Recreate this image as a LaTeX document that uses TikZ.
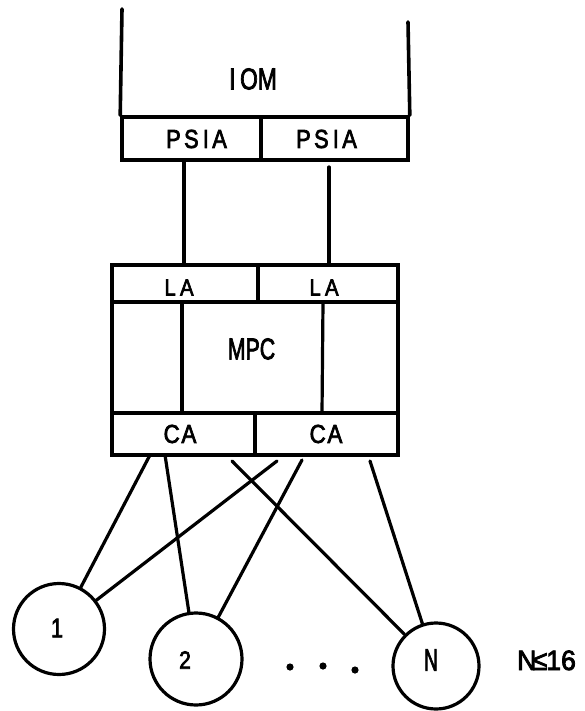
\documentclass[tikz,border=0pt]{standalone}
\usepackage{fontspec}
\setmainfont{Liberation Sans}
\newfontfamily\lblfont[FakeBold=3]{Liberation Sans}
\begin{document}
\begin{tikzpicture}[x=1pt,y=-1pt,
  wire/.style={line width=3.2pt,line cap=round,line join=round},
  frame/.style={line width=3.6pt,line cap=round,line join=round},
  cell/.style={draw,line width=3.6pt,rectangle,inner sep=0pt,anchor=center},
  unit/.style={draw,circle,line width=3.2pt,minimum size=91pt,inner sep=0pt},
  tag/.style={inner sep=0pt,anchor=center}]
\useasboundingbox (0,0) rectangle (585,711);
% #1 font size, #2 horizontal squeeze, #3 text
\newcommand{\lbl}[3]{\scalebox{#2}[1]{\lblfont\fontsize{#1}{#1}\selectfont #3}}

% IOM frame with its two PSIA cells
\node[cell,minimum width=139pt,minimum height=43pt] (psia1) at (191.5,138.5) {};
\node[cell,minimum width=147pt,minimum height=43pt] (psia2) at (334.5,138.5) {};
\node[tag] (t-psia1) at (196.5,139) {\lbl{26}{0.84}{P\hspace{4pt}S\hspace{5pt}I\hspace{4pt}A}};
\node[tag] (t-psia2) at (326.5,139) {\lbl{26}{0.84}{P\hspace{4pt}S\hspace{5pt}I\hspace{4pt}A}};
\coordinate (iomTL) at (122,9);
\coordinate (iomTR) at (408,22);
\draw[frame] (iomTL) -- (psia1.north west);
\draw[frame] (iomTR) -- (psia2.north east);
\node[tag] (iom) at (253,79) {\lbl{30}{0.76}{I\hspace{6pt}OM}};

% MPC frame
\node[cell,minimum width=286pt,minimum height=190pt] (mpc) at (255,360) {};
\node[cell,minimum width=146pt,minimum height=37pt] (la1) at (185,283.5) {};
\node[cell,minimum width=140pt,minimum height=37pt] (la2) at (328,283.5) {};
\node[cell,minimum width=143pt,minimum height=42pt] (ca1) at (183.5,434) {};
\node[cell,minimum width=143pt,minimum height=42pt] (ca2) at (326.5,434) {};
\node[tag] (t-la1) at (179,287.5) {\lbl{23}{0.88}{L\hspace{5pt}A}};
\node[tag] (t-la2) at (324,287.5) {\lbl{23}{0.88}{L\hspace{5pt}A}};
\node[tag] (t-mpc) at (251.5,349) {\lbl{30}{0.71}{MPC}};
\node[tag] (t-ca1) at (180,434) {\lbl{26}{0.86}{C\hspace{2pt}A}};
\node[tag] (t-ca2) at (326,434) {\lbl{26}{0.86}{C\hspace{2pt}A}};

% links between PSIA and LA, and through the MPC
\coordinate (p1) at (184,160);
\coordinate (p2) at (329,167);
\coordinate (l1) at (184,265);
\coordinate (l2) at (329,265);
\draw[wire] (p1) -- (l1);
\draw[wire] (p2) -- (l2);
\coordinate (m1t) at (182,302);
\coordinate (m1b) at (182,413);
\coordinate (m2t) at (323,302);
\coordinate (m2b) at (322,413);
\draw[wire] (m1t) -- (m1b);
\draw[wire] (m2t) -- (m2b);

% peripheral units
\node[unit] (u1) at (59,629) {};
\node[unit,minimum size=92pt] (u2) at (196,659) {};
\node[unit,minimum size=86pt] (uN) at (436,666) {};
\node[tag] (t-u1) at (57,628) {\lbl{27}{0.8}{1}};
\node[tag] (t-u2) at (185,660) {\lbl{25}{0.85}{2}};
\node[tag] (t-uN) at (431,660) {\lbl{31}{0.62}{N}};
\node[inner sep=0pt,anchor=base west] (lim) at (517,670) {\lbl{28}{0.95}{N\hspace{-4pt}≤\hspace{-1pt}16}};
\foreach \x/\y/\n in {290/667/d1,323/666/d2,355/670/d3}
  \fill (\x,\y) circle (3.6pt) coordinate (\n);

% CA to unit connections
\coordinate (a1) at (150,455);
\coordinate (a2) at (165,455);
\coordinate (a3) at (232,461);
\coordinate (b1) at (277,461);
\coordinate (b2) at (302,460);
\coordinate (b3) at (370,461);
\draw[wire] (a1) -- (u1);
\draw[wire] (a2) -- (u2);
\draw[wire] (a3) -- (uN);
\draw[wire] (b1) -- (u1);
\draw[wire] (b2) -- (u2);
\draw[wire] (b3) -- (uN);
\end{tikzpicture}
\end{document}
